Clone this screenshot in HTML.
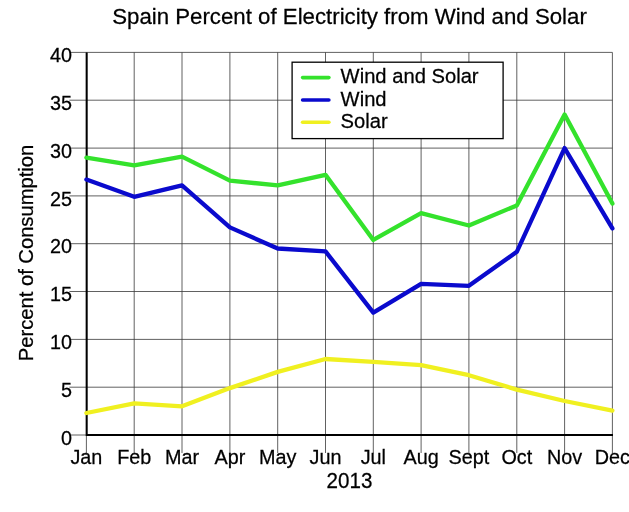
<!DOCTYPE html><html><head><meta charset="utf-8"><style>html,body{margin:0;padding:0;background:#fff;overflow:hidden}svg{display:block}text{font-family:"Liberation Sans",sans-serif;fill:#000;stroke:#000;stroke-width:0.25px}</style></head><body>
<svg width="629" height="512" viewBox="0 0 629 512">
<rect width="629" height="512" fill="#fff"/>
<path d="M86.4 52.4V453.0M134.2 52.4V453.0M182.0 52.4V453.0M229.9 52.4V453.0M277.7 52.4V453.0M325.5 52.4V453.0M373.3 52.4V453.0M421.1 52.4V453.0M468.9 52.4V453.0M516.8 52.4V453.0M564.6 52.4V453.0M612.4 52.4V453.0M69.4 435.0H612.4M69.4 387.2H612.4M69.4 339.4H612.4M69.4 291.5H612.4M69.4 243.7H612.4M69.4 195.9H612.4M69.4 148.1H612.4M69.4 100.2H612.4M69.4 52.4H612.4" stroke="#383838" stroke-width="0.8" fill="none"/>
<path d="M86.7 52.4V436.0M85.7 435.0H613.0" stroke="#000" stroke-width="2" fill="none"/>
<polyline points="86.4,157.6 134.2,165.3 182.0,156.7 229.9,180.6 277.7,185.4 325.5,174.8 373.3,239.9 421.1,213.1 468.9,225.5 516.8,205.4 564.6,114.6 612.4,203.5" fill="none" stroke="#34e22c" stroke-width="4.3" stroke-linejoin="round" stroke-linecap="round"/>
<polyline points="86.4,179.6 134.2,196.8 182.0,185.4 229.9,227.4 277.7,248.5 325.5,251.4 373.3,312.6 421.1,283.9 468.9,285.8 516.8,251.8 564.6,148.1 612.4,228.4" fill="none" stroke="#0a0acd" stroke-width="4.3" stroke-linejoin="round" stroke-linecap="round"/>
<polyline points="86.4,413.0 134.2,403.4 182.0,406.3 229.9,388.1 277.7,371.9 325.5,359.0 373.3,361.8 421.1,365.2 468.9,375.2 516.8,389.6 564.6,401.0 612.4,410.6" fill="none" stroke="#f0f020" stroke-width="4.3" stroke-linejoin="round" stroke-linecap="round"/>
<rect x="292.1" y="62.2" width="211" height="76.4" fill="#fff" stroke="#000" stroke-width="1.3"/>
<path d="M302.6 77.6H328.9" stroke="#34e22c" stroke-width="3.6" stroke-linecap="round"/>
<text transform="translate(340.6,83.3) scale(1,1.045)" font-size="20.2" text-anchor="start">Wind and Solar</text>
<path d="M302.6 100.0H328.9" stroke="#0a0acd" stroke-width="3.6" stroke-linecap="round"/>
<text transform="translate(340.6,105.7) scale(1,1.045)" font-size="20.2" text-anchor="start">Wind</text>
<path d="M302.6 122.2H328.9" stroke="#f0f020" stroke-width="3.6" stroke-linecap="round"/>
<text transform="translate(340.6,127.9) scale(1,1.045)" font-size="20.2" text-anchor="start">Solar</text>
<text transform="translate(349.5,24.4) scale(1,1.025)" font-size="22.25" text-anchor="middle">Spain Percent of Electricity from Wind and Solar</text>
<text transform="translate(72.0,444.6) scale(1,1.045)" font-size="19.8" text-anchor="end">0</text>
<text transform="translate(72.0,396.8) scale(1,1.045)" font-size="19.8" text-anchor="end">5</text>
<text transform="translate(72.0,349.0) scale(1,1.045)" font-size="19.8" text-anchor="end">10</text>
<text transform="translate(72.0,301.1) scale(1,1.045)" font-size="19.8" text-anchor="end">15</text>
<text transform="translate(72.0,253.3) scale(1,1.045)" font-size="19.8" text-anchor="end">20</text>
<text transform="translate(72.0,205.5) scale(1,1.045)" font-size="19.8" text-anchor="end">25</text>
<text transform="translate(72.0,157.7) scale(1,1.045)" font-size="19.8" text-anchor="end">30</text>
<text transform="translate(72.0,109.8) scale(1,1.045)" font-size="19.8" text-anchor="end">35</text>
<text transform="translate(72.0,62.0) scale(1,1.045)" font-size="19.8" text-anchor="end">40</text>
<text transform="translate(86.4,464) scale(1,1.045)" font-size="19.8" text-anchor="middle">Jan</text>
<text transform="translate(134.2,464) scale(1,1.045)" font-size="19.8" text-anchor="middle">Feb</text>
<text transform="translate(182.0,464) scale(1,1.045)" font-size="19.8" text-anchor="middle">Mar</text>
<text transform="translate(229.9,464) scale(1,1.045)" font-size="19.8" text-anchor="middle">Apr</text>
<text transform="translate(277.7,464) scale(1,1.045)" font-size="19.8" text-anchor="middle">May</text>
<text transform="translate(325.5,464) scale(1,1.045)" font-size="19.8" text-anchor="middle">Jun</text>
<text transform="translate(373.3,464) scale(1,1.045)" font-size="19.8" text-anchor="middle">Jul</text>
<text transform="translate(421.1,464) scale(1,1.045)" font-size="19.8" text-anchor="middle">Aug</text>
<text transform="translate(468.9,464) scale(1,1.045)" font-size="19.8" text-anchor="middle">Sept</text>
<text transform="translate(516.8,464) scale(1,1.045)" font-size="19.8" text-anchor="middle">Oct</text>
<text transform="translate(564.6,464) scale(1,1.045)" font-size="19.8" text-anchor="middle">Nov</text>
<text transform="translate(612.4,464) scale(1,1.045)" font-size="19.8" text-anchor="middle">Dec</text>
<text transform="translate(349.5,487.5) scale(1,1.045)" font-size="20.6" text-anchor="middle">2013</text>
<text transform="translate(32.9,253.0) rotate(-90) scale(1,1.045)" font-size="20.2" text-anchor="middle">Percent of Consumption</text>
</svg></body></html>
